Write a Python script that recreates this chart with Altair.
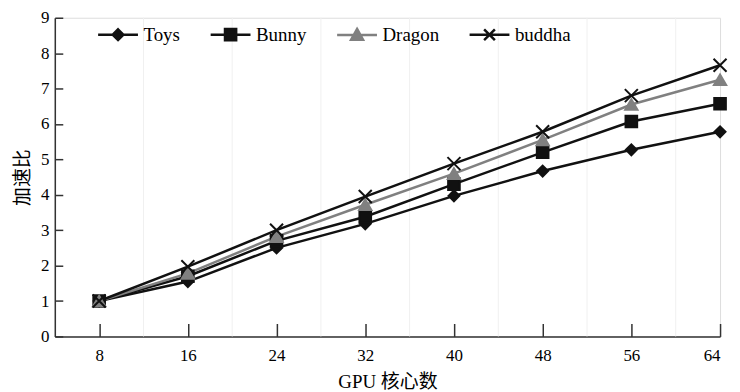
import altair as alt
import pandas as pd

cores = [8, 16, 24, 32, 40, 48, 56, 64]
series = ["Toys", "Bunny", "Dragon", "buddha"]
toys = [1.0, 1.55, 2.5, 3.18, 3.97, 4.67, 5.27, 5.78]
bunny = [1.0, 1.7, 2.7, 3.38, 4.3, 5.2, 6.07, 6.57]
dragon = [1.0, 1.78, 2.82, 3.72, 4.6, 5.55, 6.55, 7.25]
buddha = [1.0, 1.97, 3.0, 3.95, 4.88, 5.78, 6.8, 7.66]
grid_x = [12, 20, 28, 36, 44, 52, 60]
y_ticks = [0, 1, 2, 3, 4, 5, 6, 7, 8, 9]

colors = ["#111111", "#111111", "#808080", "#111111"]
shapes = ["diamond", "square", "triangle-up", "M-1,-1L1,1M-1,1L1,-1"]
sizes = [120, 170, 190, 200]
legend_paths = [
    "M-1,0L1,0M0,-0.27L0.27,0L0,0.27L-0.27,0Z",
    "M-1,0L1,0M-0.28,-0.28H0.28V0.28H-0.28Z",
    "M-1,0L1,0M0,-0.3L0.3,0.24L-0.3,0.24Z",
    "M-1,0L1,0M-0.27,-0.27L0.27,0.27M-0.27,0.27L0.27,-0.27",
]

rows = []
for name, vals in zip(series, [toys, bunny, dragon, buddha]):
    for c, v in zip(cores, vals):
        rows.append({"cores": c, "speedup": v, "series": name})
df = pd.DataFrame(rows)
grid_df = pd.DataFrame({"g": grid_x})
empty_df = pd.DataFrame({"cores": pd.Series([], dtype=float),
                         "speedup": pd.Series([], dtype=float),
                         "series": pd.Series([], dtype=str)})

LAB_FONT = "Liberation Serif"
TITLE_FONT = "Liberation Serif, Noto Sans CJK SC"
AX = "#333333"

legend = alt.Legend(
    title=None,
    orient="none",
    legendX=42,
    legendY=-5,
    direction="horizontal",
    labelFont=LAB_FONT,
    labelFontSize=19,
    labelColor="#000000",
    labelOffset=4,
    columnPadding=25,
    symbolSize=1600,
    symbolStrokeWidth=2.5,
    symbolOpacity=1,
    padding=0,
)

xscale = alt.Scale(domain=[4, 64], nice=False, zero=False)
yscale = alt.Scale(domain=[0, 9], nice=False)
cscale = alt.Scale(domain=series, range=colors)

x_main_axis = alt.Axis(
    orient="bottom",
    values=cores, ticks=False, tickSize=0, grid=False, domain=True,
    domainColor=AX, domainWidth=1.5, labelFont=LAB_FONT, labelFontSize=17,
    labelColor="#000000", labelPadding=11, title="GPU 核心数",
    titleFont=TITLE_FONT, titleFontSize=19, titleFontWeight="normal",
    titleColor="#000000", titlePadding=9,
)
x_tick_axis = alt.Axis(
    orient="bottom",
    values=cores, ticks=True, tickSize=13, tickColor=AX, tickWidth=1.5,
    offset=-13, domain=False, labels=False, grid=False, title=None,
)
y_main_axis = alt.Axis(
    orient="left",
    values=y_ticks, ticks=False, tickSize=0, grid=False, domain=True,
    domainColor=AX, domainWidth=1.5, labelFont=LAB_FONT, labelFontSize=17,
    labelColor="#000000", labelPadding=6, title="加速比",
    titleFont=TITLE_FONT, titleFontSize=19, titleFontWeight="normal",
    titleColor="#000000", titlePadding=8,
)
y_tick_axis = alt.Axis(
    orient="left",
    values=y_ticks, ticks=True, tickSize=8, tickColor=AX, tickWidth=1.5,
    offset=-8, domain=False, labels=False, grid=False, title=None,
)

grid = alt.Chart(grid_df).mark_rule(color="#f0f0f0", strokeWidth=1).encode(
    x=alt.X("g:Q", scale=xscale, axis=x_main_axis),
)

lines = alt.Chart(df).mark_line(strokeWidth=2.5).encode(
    x=alt.X("cores:Q", scale=xscale, axis=x_tick_axis),
    y=alt.Y("speedup:Q", scale=yscale, axis=y_main_axis),
    color=alt.Color("series:N", scale=cscale, legend=None, sort=series),
    order=alt.Order("cores:Q"),
)

points = alt.Chart(df).mark_point(filled=True, opacity=1, strokeWidth=2).encode(
    x=alt.X("cores:Q", scale=xscale, axis=None),
    y=alt.Y("speedup:Q", scale=yscale, axis=y_tick_axis),
    color=alt.Color("series:N", scale=cscale, legend=None),
    stroke=alt.Stroke("series:N", scale=cscale, legend=None),
    shape=alt.Shape("series:N", scale=alt.Scale(domain=series, range=shapes), legend=None),
    size=alt.Size("series:N", scale=alt.Scale(domain=series, range=sizes), legend=None),
)

legend_layer = alt.Chart(empty_df).mark_point(filled=True, opacity=1).encode(
    x=alt.X("cores:Q", scale=xscale, axis=None),
    y=alt.Y("speedup:Q", scale=yscale, axis=None),
    color=alt.Color("series:N", scale=cscale, legend=legend),
    stroke=alt.Stroke("series:N", scale=cscale, legend=legend),
    shape=alt.Shape("series:N", scale=alt.Scale(domain=series, range=legend_paths), legend=legend),
)

chart = (
    alt.layer(grid, lines, points, legend_layer)
    .resolve_axis(x="independent", y="independent")
    .resolve_scale(color="independent", stroke="independent", shape="independent", size="independent")
    .properties(
        width=668,
        height=320,
        autosize=alt.AutoSizeParams(type="none"),
        padding={"left": 47, "top": 9, "right": 12, "bottom": 54},
    )
    .configure_view(stroke=None)
    .configure(background="white")
)

chart.save("out.html", embed_options={"renderer": "svg", "actions": False})
